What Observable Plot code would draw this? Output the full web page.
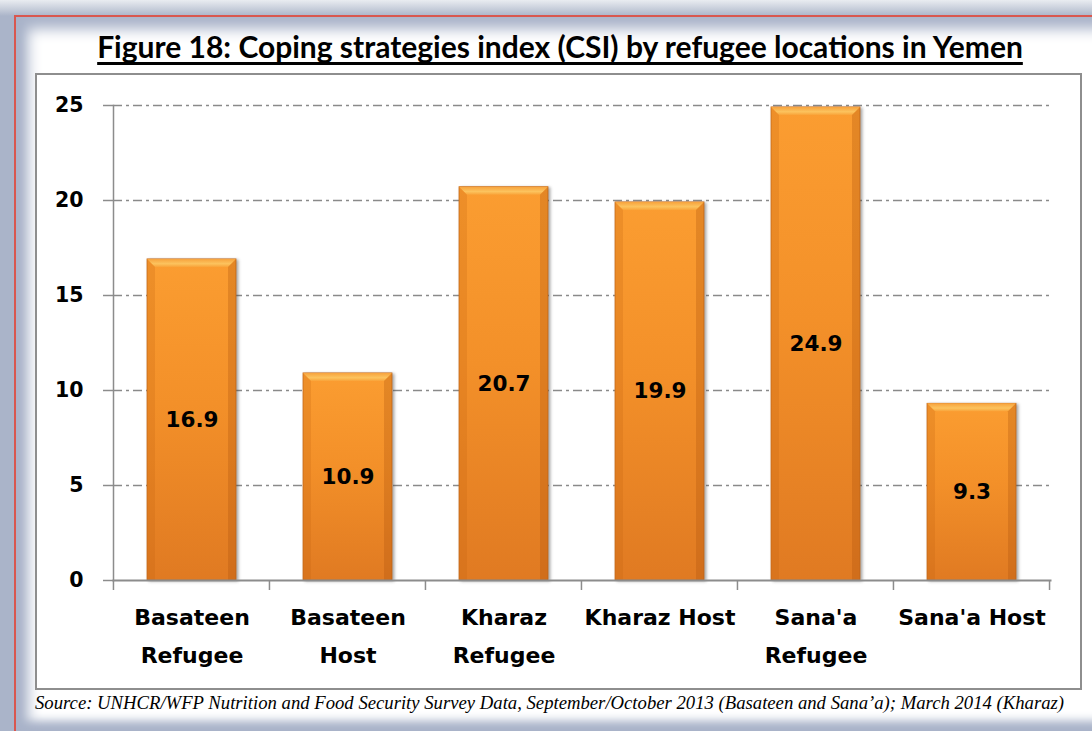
<!DOCTYPE html>
<html>
<head>
<meta charset="utf-8">
<script src="https://cdn.jsdelivr.net/npm/d3@7"></script>
<script src="https://cdn.jsdelivr.net/npm/@observablehq/plot@0.6"></script>
<style>
  html, body { margin: 0; padding: 0; }
  body { width: 1092px; height: 731px; overflow: hidden; position: relative;
         background: linear-gradient(180deg, #e9ecf1 0px, #c3cad8 10px, #aab4c9 16px); }
  #panel { position: absolute; left: 14px; top: 15px; width: 1200px; height: 716px;
           border-left: 2px solid #d9574f; border-top: 2px solid #d9574f;
           background: #ffffff;
           box-shadow: inset 6px 6px 14px 6px #a9b3c9, inset 0 -8px 10px 4px #a9b3c9; }
  #title { position: absolute; left: 560px; top: 31px; transform: translateX(-50%);
           white-space: nowrap; font-family: Lato, sans-serif; font-weight: bold;
           font-size: 30px; line-height: 30px; color: #000;
           text-decoration: underline; text-decoration-thickness: 3px; text-underline-offset: 4px;
           text-decoration-skip-ink: none; }
  #box { position: absolute; left: 35px; top: 73px; width: 1043px; height: 613px;
         border: 2px solid #8e8e8e; background: #fff; }
  #box svg { position: absolute; left: 0; top: 0; }
  #source { position: absolute; left: 35px; top: 694px; white-space: nowrap;
            font-family: "Liberation Serif", serif; font-style: italic; font-size: 18.7px;
            line-height: 18.7px; color: #000; }
  g[aria-label="bar"] rect { filter: drop-shadow(2px 1px 1.5px rgba(60,60,60,0.45)); }
</style>
</head>
<body>
<div id="panel"></div>
<div id="title">Figure 18: Coping strategies index (CSI) by refugee locations in Yemen</div>
<div id="box"></div>
<div id="source">Source: UNHCR/WFP Nutrition and Food Security Survey Data, September/October 2013 (Basateen and Sana’a); March 2014 (Kharaz)</div>
<script>
const categories = ["Basateen Refugee", "Basateen Host", "Kharaz Refugee", "Kharaz Host", "Sana'a Refugee", "Sana'a Host"];
const categoryLabels = ["Basateen\nRefugee", "Basateen\nHost", "Kharaz\nRefugee", "Kharaz Host", "Sana'a\nRefugee", "Sana'a Host"];
const values = [16.9, 10.9, 20.7, 19.9, 24.9, 9.3];
const yTicks = [0, 5, 10, 15, 20, 25];

const data = categories.map((c, i) => ({cat: c, label: categoryLabels[i], value: values[i]}));

// category boundary ticks + top bevel drawn through the scales
function boundaryTicks(index, scales) {
  const x = scales.x, y = scales.y;
  const step = x.step(), pad = x.paddingInner() * step / 2;
  const g = d3.create("svg:g").attr("stroke", "#8c8c8c").attr("stroke-width", 1.5);
  const y0 = y(0);
  const edges = categories.map(c => x(c) - pad);
  edges.push(x(categories[categories.length - 1]) + x.bandwidth() + pad);
  edges.forEach(e => g.append("line").attr("x1", e).attr("x2", e).attr("y1", y0).attr("y2", y0 + 10));
  return g.node();
}
function bevels(index, scales) {
  const x = scales.x, y = scales.y, w = x.bandwidth(), b = 8;
  const g = d3.create("svg:g");
  data.forEach(d => {
    const x0 = x(d.cat), x1 = x0 + w, yt = y(d.value);
    g.append("polygon")
      .attr("points", `${x0},${yt} ${x1},${yt} ${x1 - b},${yt + b} ${x0 + b},${yt + b}`)
      .attr("fill", "url(#bevelGrad)");
    g.append("polygon")
      .attr("points", `${x0},${yt} ${x0 + b},${yt + b} ${x0 + b},${y(0)} ${x0},${y(0)}`)
      .attr("fill", "rgba(190,95,15,0.22)");
    g.append("polygon")
      .attr("points", `${x1},${yt} ${x1 - b},${yt + b} ${x1 - b},${y(0)} ${x1},${y(0)}`)
      .attr("fill", "rgba(170,80,10,0.28)");
  });
  return g.node();
}

const chart = Plot.plot({
  width: 1043,
  height: 613,
  marginLeft: 76,
  marginRight: 30,
  marginTop: 30,
  marginBottom: 108,
  style: {background: "transparent", overflow: "visible"},
  x: {domain: categories, paddingInner: 0.43, paddingOuter: 0.215, axis: null},
  y: {domain: [0, 25], axis: null},
  marks: [
    Plot.gridY(yTicks.filter(t => t > 0), {stroke: "#8a8a8a", strokeOpacity: 1, strokeWidth: 1.3, strokeDasharray: "9,4,3,4"}),
    Plot.axisY({ticks: yTicks, tickSize: 10, tickPadding: 20, stroke: "#8c8c8c", strokeWidth: 1.5, fill: "#000",
                fontSize: 20.5, fontWeight: "bold", fontFamily: "DejaVu Sans", label: null}),
    Plot.frame({anchor: "left", stroke: "#8c8c8c", strokeWidth: 1.5}),
    Plot.barY(data, {x: "cat", y: "value", fill: "url(#barGrad)", stroke: "#c56d1f", strokeWidth: 0.8}),
    bevels,
    Plot.frame({anchor: "bottom", stroke: "#8c8c8c", strokeWidth: 2}),
    boundaryTicks,
    Plot.text(data, {x: "cat", y: d => d.value / 2, text: d => d.value.toFixed(1),
                     fontSize: 21.5, fontWeight: "bold", fontFamily: "DejaVu Sans", fill: "#000"}),
    Plot.text(data, {x: "cat", text: "label", frameAnchor: "bottom", lineAnchor: "top", dy: 17,
                     lineHeight: 1.73, fontSize: 22, fontWeight: "bold", fontFamily: "DejaVu Sans", fill: "#000"})
  ]
});

const defs = d3.create("svg:defs");
const bg = defs.append("linearGradient").attr("id", "barGrad").attr("x1", 0).attr("x2", 0).attr("y1", 0).attr("y2", 1);
bg.append("stop").attr("offset", "0%").attr("stop-color", "#fb9d31");
bg.append("stop").attr("offset", "45%").attr("stop-color", "#f39029");
bg.append("stop").attr("offset", "100%").attr("stop-color", "#e07a22");
const bv = defs.append("linearGradient").attr("id", "bevelGrad").attr("x1", 0).attr("x2", 0).attr("y1", 0).attr("y2", 1);
bv.append("stop").attr("offset", "0%").attr("stop-color", "#f7a23c");
bv.append("stop").attr("offset", "60%").attr("stop-color", "#fcc35e");
bv.append("stop").attr("offset", "100%").attr("stop-color", "#f9a43a");
chart.insertBefore(defs.node(), chart.firstChild);

document.getElementById("box").appendChild(chart);
</script>
</body>
</html>
